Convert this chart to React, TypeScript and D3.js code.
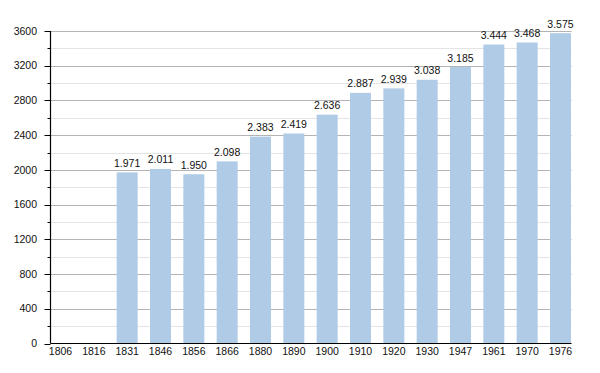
import React from "react";
import * as d3 from "d3";

const years = ["1806","1816","1831","1846","1856","1866","1880","1890","1900","1910","1920","1930","1947","1961","1970","1976"];
const population: (number | null)[] = [null,null,1971,2011,1950,2098,2383,2419,2636,2887,2939,3038,3185,3444,3468,3575];
const majorTicks = [0,400,800,1200,1600,2000,2400,2800,3200,3600];
const minorTicks = [200,600,1000,1400,1800,2200,2600,3000,3400];

const W = 600, H = 373;
const axisX = 50.5, axisRight = 571.5;
const y0 = 343.5, yTop = 31;

export default function App() {
  const x = d3.scalePoint<string>().domain(years).range([60.5, 560.5]);
  const y = d3.scaleLinear().domain([0, 3600]).range([y0, yTop]);
  const bw = 21;
  const fmt = (v: number) => d3.format(",")(v).replace(/,/g, ".");
  const font = "'Liberation Sans', Arial, sans-serif";
  return (
    <svg width={W} height={H} style={{ position: "absolute", left: 0, top: 0, background: "#fff" }}>
      {minorTicks.map(t => (
        <line key={"mg"+t} x1={axisX} x2={axisRight} y1={Math.round(y(t))+0.5} y2={Math.round(y(t))+0.5} stroke="#e4e4e4" strokeWidth={1} />
      ))}
      {majorTicks.filter(t => t > 0).map(t => (
        <line key={"Mg"+t} x1={axisX} x2={axisRight} y1={Math.round(y(t))+0.5} y2={Math.round(y(t))+0.5} stroke="#b4b4b4" strokeWidth={1} />
      ))}
      {years.map((yr, i) => {
        const v = population[i];
        if (v == null) return null;
        const cx = x(yr)!;
        return (
          <g key={yr}>
            <rect x={cx - bw/2} y={y(v)} width={bw} height={y0 - y(v)} fill="#b0cbe5" />
            <text x={cx} y={y(v) - 5.5} textAnchor="middle" fontFamily={font} fontSize={10.5} fill="#111">{fmt(v)}</text>
          </g>
        );
      })}
      <line x1={axisX} x2={axisX} y1={yTop} y2={y0} stroke="#000" strokeWidth={1.2} />
      <line x1={axisX} x2={axisRight} y1={y0} y2={y0} stroke="#000" strokeWidth={1.2} />
      {majorTicks.map(t => (
        <g key={"mt"+t}>
          <line x1={axisX - 6} x2={axisX} y1={Math.round(y(t))+0.5} y2={Math.round(y(t))+0.5} stroke="#000" />
          <text x={37} y={y(t)} dy="0.35em" textAnchor="end" fontFamily={font} fontSize={10.5} fill="#111">{t}</text>
        </g>
      ))}
      {minorTicks.map(t => (
        <line key={"nt"+t} x1={axisX - 3} x2={axisX} y1={Math.round(y(t))+0.5} y2={Math.round(y(t))+0.5} stroke="#000" />
      ))}
      {years.map(yr => (
        <text key={"xl"+yr} x={x(yr)!} y={355} textAnchor="middle" fontFamily={font} fontSize={10.5} fill="#111">{yr}</text>
      ))}
    </svg>
  );
}
